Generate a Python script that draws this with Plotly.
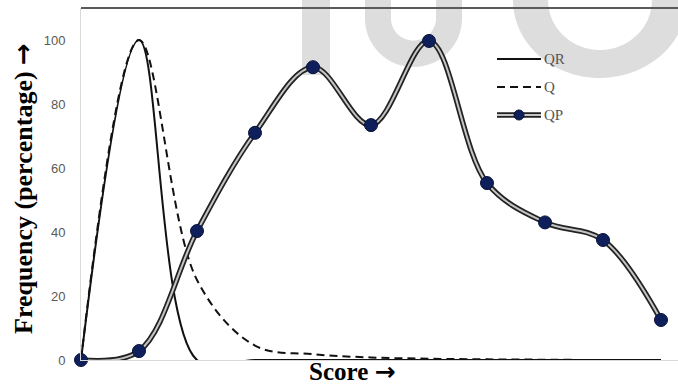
import plotly.graph_objects as go

# ---- data ----
scores = [0, 1, 2, 3, 4, 5, 6, 7, 8, 9, 10]
qr = [0, 100, 0, 0, 0, 0, 0, 0, 0, 0, 0]
q = [0, 100, 25, 4.5, 1.8, 0.8, 0.4, 0.2, 0.1, 0, 0]
qp = [0, 2.8, 40.3, 71, 91.5, 73.4, 99.7, 55.3, 43, 37.5, 12.5]
y_ticks = [0, 20, 40, 60, 80, 100]

W, H = 678, 385
ML, MR, MT, MB = 81, 0, 8, 25
PW, PH = W - ML - MR, H - MT - MB
K = 0.5523


def px(xp):
    return (xp - ML) / PW


def py(yp):
    return (H - MB - yp) / PH


def pt(x, y):
    return f"{px(x):.5f},{py(y):.5f}"


def half_ring(cx, cy, rxo, ryo, rxi, ryi, top):
    """bottom half of an elliptical ring with arms extended up to 'top' (pixel coords)"""
    p = [f"M{pt(cx - rxo, top)}", f"L{pt(cx - rxo, cy)}",
         f"C{pt(cx - rxo, cy + K * ryo)} {pt(cx - K * rxo, cy + ryo)} {pt(cx, cy + ryo)}",
         f"C{pt(cx + K * rxo, cy + ryo)} {pt(cx + rxo, cy + K * ryo)} {pt(cx + rxo, cy)}",
         f"L{pt(cx + rxo, top)}", f"L{pt(cx + rxi, top)}", f"L{pt(cx + rxi, cy)}",
         f"C{pt(cx + rxi, cy + K * ryi)} {pt(cx + K * rxi, cy + ryi)} {pt(cx, cy + ryi)}",
         f"C{pt(cx - K * rxi, cy + ryi)} {pt(cx - rxi, cy + K * ryi)} {pt(cx - rxi, cy)}",
         f"L{pt(cx - rxi, top)}", "Z"]
    return " ".join(p)


fig = go.Figure()

# QR solid
fig.add_trace(go.Scatter(x=scores, y=qr, mode="lines", name="QR",
                         line=dict(color="#111111", width=2, shape="spline", smoothing=1)))
# Q dashed
fig.add_trace(go.Scatter(x=scores, y=q, mode="lines", name="Q",
                         line=dict(color="#111111", width=2, dash="8px,5px", shape="spline", smoothing=1)))
# QP double line: dark outer + gray inner
fig.add_trace(go.Scatter(x=scores, y=qp, mode="lines", name="QP",
                         line=dict(color="#222222", width=5.5, shape="spline", smoothing=1)))
fig.add_trace(go.Scatter(x=scores, y=qp, mode="lines", name="QP",
                         line=dict(color="#c4c4c4", width=2, shape="spline", smoothing=1)))
fig.add_trace(go.Scatter(x=scores, y=qp, mode="markers", name="QP",
                         marker=dict(color="#0e1f5b", size=13, line=dict(color="#08133a", width=1)),
                         cliponaxis=False))

WM = "#dddddd"
shapes = [
    # watermark (faint background logo, cropped at the top)
    dict(type="rect", xref="paper", yref="paper", x0=px(302), x1=px(330), y0=py(75), y1=py(-5),
         fillcolor=WM, line=dict(width=0), layer="below"),
    dict(type="path", xref="paper", yref="paper", path=half_ring(413.5, 18.5, 48.5, 48.5, 22.5, 22, -5),
         fillcolor=WM, line=dict(width=0), layer="below"),
    dict(type="path", xref="paper", yref="paper", path=half_ring(600, 0, 87, 78, 52, 50, -5),
         fillcolor=WM, line=dict(width=0), layer="below"),
    # top border
    dict(type="line", xref="paper", yref="paper", x0=0, x1=1, y0=1, y1=1,
         line=dict(color="#5a5a5a", width=2)),
    # legend samples
    dict(type="line", xref="paper", yref="paper", x0=px(497), x1=px(541), y0=py(59), y1=py(59),
         line=dict(color="#111111", width=2)),
    dict(type="line", xref="paper", yref="paper", x0=px(497), x1=px(541), y0=py(87), y1=py(87),
         line=dict(color="#111111", width=2, dash="8px,5px")),
    dict(type="line", xref="paper", yref="paper", x0=px(497), x1=px(541), y0=py(115), y1=py(115),
         line=dict(color="#222222", width=5.5)),
    dict(type="line", xref="paper", yref="paper", x0=px(497), x1=px(541), y0=py(115), y1=py(115),
         line=dict(color="#c4c4c4", width=2)),
    dict(type="circle", xref="paper", yref="paper", x0=px(514), x1=px(524), y0=py(120), y1=py(110),
         fillcolor="#0e1f5b", line=dict(color="#08133a", width=1)),
]

ARROW = '<span style="font-family:DejaVu Sans">→</span>'
annotations = [
    # legend labels
    dict(text="QR", xref="paper", yref="paper", x=px(542), y=py(59), xanchor="left", yanchor="middle",
         showarrow=False, font=dict(family="Liberation Serif", size=15, color="#555555")),
    dict(text="Q", xref="paper", yref="paper", x=px(542), y=py(87), xanchor="left", yanchor="middle",
         showarrow=False, font=dict(family="Liberation Serif", size=15, color="#555555")),
    dict(text="QP", xref="paper", yref="paper", x=px(542), y=py(115), xanchor="left", yanchor="middle",
         showarrow=False, font=dict(family="Liberation Serif", size=15, color="#555555")),
    # axis titles
    dict(text="<b>Frequency (percentage) " + ARROW + "</b>", xref="paper", yref="paper",
         x=px(23), y=py(189), textangle=-90, showarrow=False, xanchor="center", yanchor="middle",
         font=dict(family="Liberation Serif", size=26, color="#000000")),
    dict(text="<b>Score " + ARROW + "</b>", xref="paper", yref="paper", x=px(352), y=py(371),
         showarrow=False, xanchor="center", yanchor="middle",
         font=dict(family="Liberation Serif", size=25, color="#000000")),
]

fig.update_layout(
    width=W, height=H,
    margin=dict(l=ML, r=MR, t=MT, b=MB),
    paper_bgcolor="white", plot_bgcolor="rgba(0,0,0,0)",
    showlegend=False,
    shapes=shapes,
    annotations=annotations,
    xaxis=dict(range=[0, PW / 58.0], showgrid=False, zeroline=False, showticklabels=False,
               showline=True, linecolor="#d9d9d9", linewidth=1, ticks=""),
    yaxis=dict(range=[0, 110], showgrid=False, zeroline=False, tickvals=y_ticks,
               showline=True, linecolor="#d9d9d9", linewidth=1, ticks="",
               ticklabelstandoff=12,
               tickfont=dict(family="Liberation Sans", size=13, color="#595959")),
)

fig.write_html("out.html", config={"displayModeBar": False},
               post_script="document.body.style.margin='0px';")
